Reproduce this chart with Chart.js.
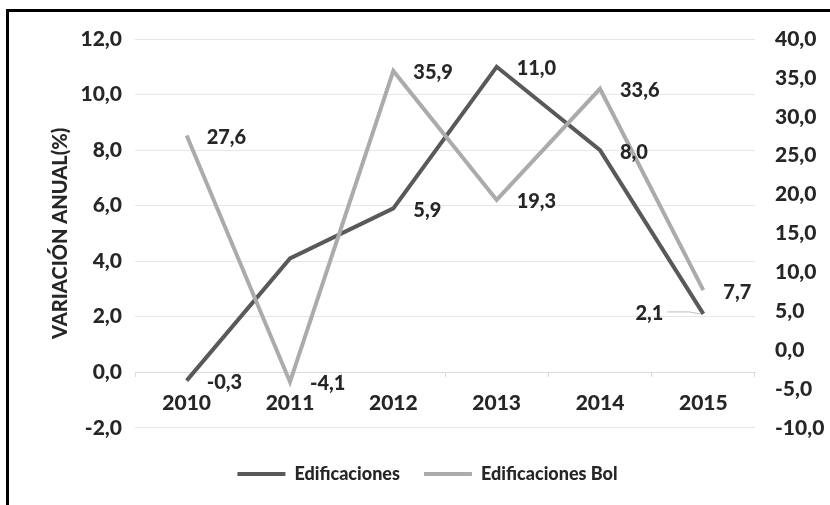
<!DOCTYPE html>
<html>
<head>
<meta charset="utf-8">
<script src="https://cdn.jsdelivr.net/npm/chart.js@4.4.1/dist/chart.umd.min.js"></script>
<style>
  html, body { margin: 0; padding: 0; background: #fff; overflow: hidden; }
  #wrap { position: relative; width: 830px; height: 505px; }
  #c { position: absolute; left: 0; top: 0; }
  #frame {
    position: absolute; left: 6px; top: 9px; width: 900px; height: 600px;
    border-left: 3px solid #000; border-top: 3px solid #000; pointer-events: none;
  }
</style>
</head>
<body>
<div id="wrap">
  <canvas id="c" width="830" height="505"></canvas>
  <div id="frame"></div>
</div>
<script>
// Annual variation (%) of building activity, national vs. Bolívar
const years = ['2010', '2011', '2012', '2013', '2014', '2015'];
const edificaciones = [-0.3, 4.1, 5.9, 11.0, 8.0, 2.1];
const edificacionesBol = [27.6, -4.1, 35.9, 19.3, 33.6, 7.7];
const leftTickValues = [-2, 0, 2, 4, 6, 8, 10, 12];
const rightTickValues = [-10, -5, 0, 5, 10, 15, 20, 25, 30, 35, 40];

const TEXT = '#262626';
const FONT = 'Lato';
const WEIGHT = 900;
const fmt = v => v.toFixed(1).replace('.', ',');

// Label placement per dataset index / point index: 'none' hides, 'leader' puts it left with a connector
const labelPlacement = { 0: { 1: 'none', 5: 'leader' } };

const valueLabels = {
  id: 'valueLabels',
  afterDatasetsDraw(chart) {
    const ctx = chart.ctx;
    ctx.save();
    ctx.font = WEIGHT + ' 20px ' + FONT;
    ctx.fillStyle = TEXT;
    ctx.textBaseline = 'middle';
    chart.data.datasets.forEach((ds, di) => {
      const meta = chart.getDatasetMeta(di);
      meta.data.forEach((pt, i) => {
        const place = (labelPlacement[di] || {})[i] || 'right';
        if (place === 'none') return;
        const txt = fmt(ds.data[i]);
        if (place === 'leader') {
          ctx.textAlign = 'right';
          ctx.fillText(txt, pt.x - 40, pt.y);
          ctx.save();
          ctx.strokeStyle = '#bdbdbd';
          ctx.lineWidth = 1;
          ctx.beginPath();
          ctx.moveTo(pt.x - 36, pt.y - 2);
          ctx.lineTo(pt.x - 14, pt.y - 2);
          ctx.lineTo(pt.x - 3, pt.y);
          ctx.stroke();
          ctx.restore();
        } else {
          ctx.textAlign = 'left';
          ctx.fillText(txt, pt.x + 20, pt.y + 2);
        }
      });
    });
    ctx.restore();
  }
};

Chart.defaults.font.family = FONT;
Chart.defaults.color = TEXT;

new Chart(document.getElementById('c'), {
  type: 'line',
  data: {
    labels: years,
    datasets: [
      {
        label: 'Edificaciones',
        data: edificaciones,
        yAxisID: 'y',
        borderColor: '#595959',
        backgroundColor: '#595959',
        borderWidth: 4,
        pointRadius: 0,
        tension: 0,
        fill: false,
        order: 1
      },
      {
        label: 'Edificaciones Bol',
        data: edificacionesBol,
        yAxisID: 'y1',
        borderColor: '#ababab',
        backgroundColor: '#ababab',
        borderWidth: 4,
        pointRadius: 0,
        tension: 0,
        fill: false,
        order: 0
      }
    ]
  },
  options: {
    responsive: false,
    devicePixelRatio: 1,
    animation: false,
    layout: { padding: { left: 25, right: 0, top: 39, bottom: 12 } },
    plugins: {
      tooltip: { enabled: false },
      legend: {
        position: 'bottom',
        title: { display: true, text: '', font: { size: 1 }, padding: { top: 12, bottom: 0 } },
        labels: {
          boxWidth: 48,
          boxHeight: 4,
          padding: 24,
          color: TEXT,
          font: { size: 18, weight: WEIGHT },
          sort: (a, b) => a.datasetIndex - b.datasetIndex,
          generateLabels: chart =>
            Chart.defaults.plugins.legend.labels.generateLabels(chart).map(item =>
              Object.assign(item, { lineWidth: 0, fillStyle: item.strokeStyle }))
        }
      }
    },
    scales: {
      x: {
        type: 'category',
        position: { y: 0 },
        offset: true,
        grid: { display: true, drawOnChartArea: false, drawTicks: true, tickLength: 4, color: '#d9d9d9', offset: true },
        border: { display: true, color: '#d9d9d9', width: 1 },
        ticks: { padding: 14, color: TEXT, font: { size: 21, weight: WEIGHT }, maxRotation: 0 }
      },
      y: {
        position: 'left',
        min: -2,
        max: 12,
        afterBuildTicks: s => { s.ticks = leftTickValues.map(v => ({ value: v })); },
        afterFit: s => { s.width = 110; },
        grid: { color: '#e6e6e6', drawTicks: false },
        border: { display: false },
        ticks: { padding: 13, color: TEXT, font: { size: 21, weight: WEIGHT }, callback: v => fmt(v) },
        title: {
          display: true,
          text: 'VARIACIÓN ANUAL(%)',
          color: TEXT,
          font: { size: 20, weight: WEIGHT },
          padding: { top: 24, bottom: 0 }
        }
      },
      y1: {
        position: 'right',
        min: -10,
        max: 40,
        afterBuildTicks: s => { s.ticks = rightTickValues.map(v => ({ value: v })); },
        afterFit: s => { s.width = 75; },
        grid: { display: false, drawTicks: false },
        border: { display: false },
        ticks: { padding: 20, color: TEXT, font: { size: 21, weight: WEIGHT }, callback: v => fmt(v) }
      }
    }
  },
  plugins: [valueLabels]
});
</script>
</body>
</html>
